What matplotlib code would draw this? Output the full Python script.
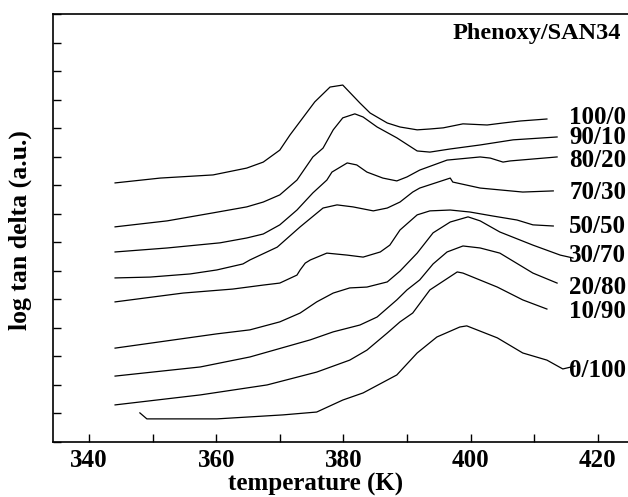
import matplotlib
matplotlib.use('Agg')
import matplotlib.pyplot as plt
from matplotlib.ticker import MultipleLocator, NullFormatter

plt.rcParams['font.family'] = ['Liberation Serif', 'DejaVu Serif']
plt.rcParams['font.weight'] = 'bold'

# Curvas de log tan delta (unidades arbitrárias, deslocadas verticalmente)
t_100_0 = [344.1, 351.2, 359.5, 364.8, 367.4, 370.0, 371.6, 375.5, 377.9, 379.9, 382.6,
           384.2, 386.9, 388.9, 391.6, 393.6, 395.7, 398.8, 402.6, 405.1, 407.8, 412.0]
y_100_0 = [9.08, 9.25, 9.36, 9.60, 9.81, 10.23, 10.76, 11.92, 12.44, 12.51, 11.88,
           11.53, 11.18, 11.04, 10.94, 10.97, 11.01, 11.15, 11.11, 11.18, 11.25, 11.32]

t_90_10 = [344.1, 352.3, 359.5, 364.8, 367.4, 370.0, 372.7, 375.2, 376.8, 378.4, 379.9,
           381.8, 383.1, 385.3, 388.4, 391.6, 393.6, 396.8, 401.5, 406.7, 413.6]
y_90_10 = [7.54, 7.75, 8.03, 8.24, 8.41, 8.66, 9.18, 9.99, 10.30, 10.94, 11.36,
           11.50, 11.39, 11.04, 10.66, 10.20, 10.16, 10.27, 10.41, 10.59, 10.69]

t_80_20 = [344.1, 352.3, 360.6, 364.8, 367.4, 370.0, 372.7, 375.2, 377.4, 378.2, 380.6, 382.1,
           383.7, 386.2, 388.4, 390.0, 392.0, 396.3, 401.5, 403.1, 405.1, 406.2, 413.6]
y_80_20 = [6.66, 6.80, 6.98, 7.15, 7.29, 7.61, 8.13, 8.73, 9.18, 9.46, 9.78, 9.71,
           9.46, 9.25, 9.15, 9.29, 9.53, 9.88, 9.99, 9.95, 9.81, 9.85, 9.99]

t_70_30 = [344.1, 349.6, 355.9, 360.1, 364.2, 365.3, 369.6, 373.2, 376.8, 379.0, 381.5,
           384.7, 386.9, 388.9, 390.9, 392.0, 396.8, 397.2, 401.5, 408.2, 413.0]
y_70_30 = [5.75, 5.78, 5.89, 6.03, 6.24, 6.38, 6.83, 7.54, 8.20, 8.31, 8.24,
           8.10, 8.20, 8.41, 8.76, 8.90, 9.25, 9.11, 8.90, 8.76, 8.80]

t_50_50 = [344.1, 354.8, 362.6, 367.4, 370.0, 372.7, 373.2, 374.0, 374.8, 377.4, 380.6, 383.1,
           385.8, 387.3, 388.9, 391.6, 393.6, 396.8, 399.9, 403.5, 407.3, 409.8, 413.0]
y_50_50 = [4.91, 5.22, 5.36, 5.50, 5.57, 5.85, 6.03, 6.27, 6.38, 6.62, 6.55, 6.48,
           6.66, 6.90, 7.43, 7.96, 8.10, 8.13, 8.06, 7.92, 7.78, 7.61, 7.57]

t_30_70 = [344.1, 360.1, 365.3, 370.0, 373.2, 375.8, 378.4, 381.0, 383.7, 386.9,
           388.9, 391.6, 394.1, 396.8, 399.6, 401.5, 404.6, 409.8, 414.1, 416.1]
y_30_70 = [3.29, 3.79, 3.93, 4.21, 4.52, 4.91, 5.22, 5.40, 5.43, 5.61,
           5.99, 6.62, 7.33, 7.71, 7.89, 7.75, 7.36, 6.90, 6.55, 6.45]

t_20_80 = [344.1, 357.5, 365.3, 374.8, 378.4, 382.6, 385.3, 388.4, 390.0, 392.0,
           394.1, 396.3, 398.8, 401.5, 404.6, 409.8, 413.6]
y_20_80 = [2.31, 2.63, 2.98, 3.58, 3.86, 4.10, 4.38, 4.98, 5.33, 5.68,
           6.24, 6.66, 6.87, 6.80, 6.62, 5.92, 5.57]

t_10_90 = [344.1, 357.5, 368.0, 375.8, 381.0, 383.7, 386.9, 388.9, 390.9, 393.6,
           397.9, 398.8, 404.2, 408.2, 412.0]
y_10_90 = [1.30, 1.65, 2.00, 2.45, 2.87, 3.22, 3.82, 4.21, 4.52, 5.33,
           5.96, 5.92, 5.43, 4.98, 4.66]

t_0_100 = [348.0, 349.1, 360.1, 370.5, 375.8, 379.9, 383.1, 388.4, 391.6, 394.7,
           398.3, 399.4, 404.2, 408.2, 412.0, 414.5, 416.4]
y_0_100 = [1.02, 0.81, 0.81, 0.95, 1.05, 1.47, 1.72, 2.35, 3.12, 3.68,
           4.03, 4.07, 3.65, 3.12, 2.87, 2.56, 2.66]

labels = ['100/0', '90/10', '80/20', '70/30', '50/50', '30/70', '20/80', '10/90', '0/100']
label_y = [11.39, 10.66, 9.88, 8.76, 7.57, 6.55, 5.43, 4.56, 2.52]

curves = [(t_100_0, y_100_0), (t_90_10, y_90_10), (t_80_20, y_80_20),
          (t_70_30, y_70_30), (t_50_50, y_50_50), (t_30_70, y_30_70),
          (t_20_80, y_20_80), (t_10_90, y_10_90), (t_0_100, y_0_100)]

fig = plt.figure(figsize=(6.28, 4.97), dpi=100)
ax = fig.add_axes([53 / 628, 55 / 497, 575 / 628, 428 / 497])

for t, y in curves:
    ax.plot(t, y, color='black', linewidth=0.9)

for lab, ly in zip(labels, label_y):
    ax.text(415.5, ly, lab, fontsize=18, fontweight='bold', ha='left', va='center',
            clip_on=False)

ax.text(397.2, 14.3, 'Phenoxy/SAN34', fontsize=17.5, fontweight='bold', ha='left', va='center')

ax.set_xlim(334.34, 424.75)
ax.set_ylim(0, 15)

ax.xaxis.set_major_locator(MultipleLocator(20))
ax.xaxis.set_minor_locator(MultipleLocator(10))
ax.yaxis.set_major_locator(MultipleLocator(1))
ax.yaxis.set_major_formatter(NullFormatter())
ax.tick_params(axis='both', which='both', direction='in', length=6, width=1.0)
ax.tick_params(axis='x', labelsize=18, pad=5)
ax.spines['right'].set_visible(False)
for s in ['left', 'bottom', 'top']:
    ax.spines[s].set_linewidth(1.2)

ax.set_xlabel('temperature (K)', fontsize=18, fontweight='bold')
ax.xaxis.set_label_coords(0.457, -0.10)
ax.xaxis.label.set_verticalalignment('center')
ax.set_ylabel('log tan delta (a.u.)', fontsize=18.5, fontweight='bold')
ax.yaxis.set_label_coords(-0.057, 0.495)
ax.yaxis.label.set_verticalalignment('center')

fig.savefig('out.png', dpi=100)
